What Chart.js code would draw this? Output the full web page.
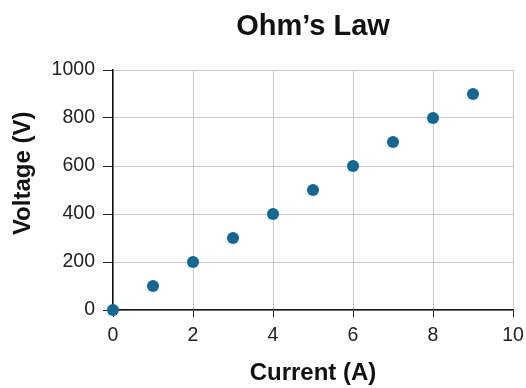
<!DOCTYPE html>
<html><head><meta charset="utf-8">
<script src="https://cdn.jsdelivr.net/npm/chart.js@4/dist/chart.umd.min.js"></script>
<style>html,body{margin:0;padding:0;background:#fff}#wrap{width:526px;height:388px}</style>
</head><body><div id="wrap"><canvas id="c" width="526" height="388"></canvas></div>
<script>
const currents = [0, 1, 2, 3, 4, 5, 6, 7, 8, 9];
const voltages = [0, 100, 200, 300, 400, 500, 600, 700, 800, 900];
const xTicks = [0, 2, 4, 6, 8, 10];
const yTicks = [0, 200, 400, 600, 800, 1000];
const chartTitle = "Ohm’s Law";
const xTitle = "Current (A)";
const yTitle = "Voltage (V)";

const FONT = "'Liberation Sans', Arial, Helvetica, sans-serif";
const pts = currents.map((c, i) => ({x: c, y: voltages[i]}));

new Chart(document.getElementById('c'), {
  type: 'scatter',
  data: { datasets: [{ data: pts, backgroundColor: '#0d6a94', borderColor: '#0d6a94', pointRadius: 6, pointHoverRadius: 6, borderWidth: 0, clip: false }] },
  options: {
    responsive: false, animation: false,
    layout: { padding: { top: 0, right: 13, bottom: 0, left: 0 } },
    plugins: {
      legend: { display: false }, tooltip: { enabled: false },
      title: { display: true, text: chartTitle, fullSize: false, color: '#111',
        font: { family: FONT, size: 29, weight: 'bold' }, padding: { top: 10, bottom: 25.2 } }
    },
    scales: {
      x: {
        type: 'linear', min: 0, max: 10,
        afterBuildTicks: s => { s.ticks = xTicks.map(v => ({value: v})); },
        afterFit: s => { s.height = 78; s.paddingLeft = 0; s.paddingRight = 0; },
        grid: { color: '#c8c8c8', tickColor: '#222', tickLength: 7, drawTicks: true },
        border: { color: '#111', width: 1.5 },
        ticks: { color: '#222', font: { family: FONT, size: 19.5 }, padding: 7, maxRotation: 0, callback: v => String(v) },
        title: { display: true, text: xTitle, color: '#111', font: { family: FONT, size: 24, weight: 'bold' }, padding: { top: 2, bottom: 0 } }
      },
      y: {
        type: 'linear', min: 0, max: 1000,
        afterBuildTicks: s => { s.ticks = yTicks.map(v => ({value: v})); },
        afterFit: s => { s.width = 113; s.paddingTop = 0; s.paddingBottom = 0; },
        grid: { color: '#c8c8c8', tickColor: '#222', tickLength: 10 },
        border: { color: '#111', width: 1.5 },
        ticks: { color: '#222', font: { family: FONT, size: 19.5 }, padding: 8, callback: v => String(v) },
        title: { display: true, text: '\u00a0\u00a0\u00a0\u00a0\u00a0' + yTitle, color: '#111', font: { family: FONT, size: 24, weight: 'bold' }, padding: { top: 9, bottom: 0 } }
      }
    }
  }
});
</script></body></html>
